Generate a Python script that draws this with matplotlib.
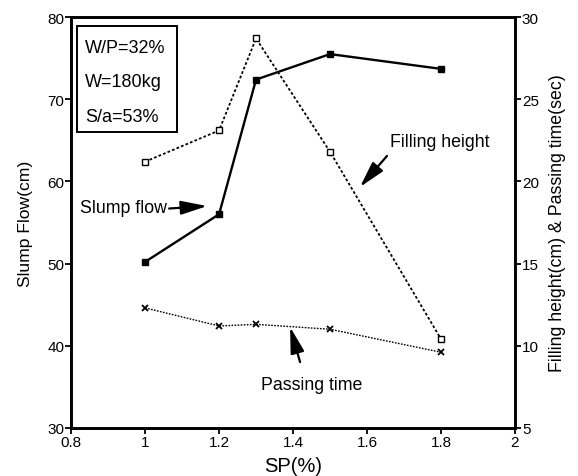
import matplotlib.pyplot as plt
from matplotlib.patches import Rectangle

plt.rcParams['font.family'] = ['Liberation Sans', 'DejaVu Sans']

# SP dosage (%)
sp = [1.0, 1.2, 1.3, 1.5, 1.8]

# Slump flow (cm), left axis
slump_flow = [50.2, 56.0, 72.4, 75.5, 73.7]

# Filling height (cm) and passing time (sec), right axis
filling_height = [21.2, 23.1, 28.7, 21.8, 10.4]
passing_time = [12.3, 11.2, 11.3, 11.0, 9.6]

mix_info = ['W/P=32%', 'W=180kg', 'S/a=53%']

fig = plt.figure(figsize=(5.78, 4.77), dpi=100)
ax = fig.add_axes([0.123, 0.101, 0.768, 0.861])
ax2 = ax.twinx()

ax.plot(sp, slump_flow, color='black', lw=1.7, marker='s', ms=4,
        mfc='black', mec='black')
ax2.plot(sp, filling_height, color='black', lw=1.3, ls=(0, (1.5, 1.2)),
         marker='s', ms=4, mfc='white', mec='black', mew=1.0)
ax2.plot(sp, passing_time, color='black', lw=1.0, ls=(0, (1.2, 1.0)),
         marker='x', ms=5, mew=1.3)

ax.set_xlim(0.8, 2.0)
ax.set_ylim(30, 80)
ax2.set_ylim(5, 30)
ax.set_xticks([0.8, 1.0, 1.2, 1.4, 1.6, 1.8, 2.0])
ax.set_xticklabels(['0.8', '1', '1.2', '1.4', '1.6', '1.8', '2'])
ax.set_yticks([30, 40, 50, 60, 70, 80])
ax2.set_yticks([5, 10, 15, 20, 25, 30])

for a in (ax, ax2):
    for s in a.spines.values():
        s.set_linewidth(1.9)
    a.tick_params(direction='out', length=4, width=1.3, labelsize=11, pad=1)

ax.set_xlabel('SP(%)', fontsize=14.5, labelpad=5)
ax.set_ylabel('Slump Flow(cm)', fontsize=12.6, labelpad=10)
ax2.set_ylabel('Filling height(cm) & Passing time(sec)', fontsize=12.8, labelpad=7)

# mix info box
ax.add_patch(Rectangle((0.0135, 0.72), 0.2255, 0.258, transform=ax.transAxes,
                       fill=False, ec='black', lw=1.4, zorder=3))
for txt, yy in zip(mix_info, [0.927, 0.844, 0.759]):
    ax.text(0.0315, yy, txt, transform=ax.transAxes, va='center', ha='left',
            fontsize=13)

# pointer arrows for the curve labels
arrow = dict(arrowstyle='-|>,head_length=1.6,head_width=0.42', color='black',
             lw=1.6, shrinkA=0, shrinkB=0)

ax.text(0.824, 56.8, 'Slump flow', fontsize=12.8, va='center', ha='left')
ax.annotate('', xy=(1.168, 57.0), xytext=(1.065, 56.7), arrowprops=arrow)

ax2.text(1.663, 22.4, 'Filling height', fontsize=12.8, va='center', ha='left')
ax2.annotate('', xy=(1.581, 19.66), xytext=(1.654, 21.55), arrowprops=arrow)

ax2.text(1.451, 7.62, 'Passing time', fontsize=12.8, va='center', ha='center')
ax2.annotate('', xy=(1.392, 11.14), xytext=(1.419, 9.0), arrowprops=arrow)

fig.savefig('out.png', dpi=100)
